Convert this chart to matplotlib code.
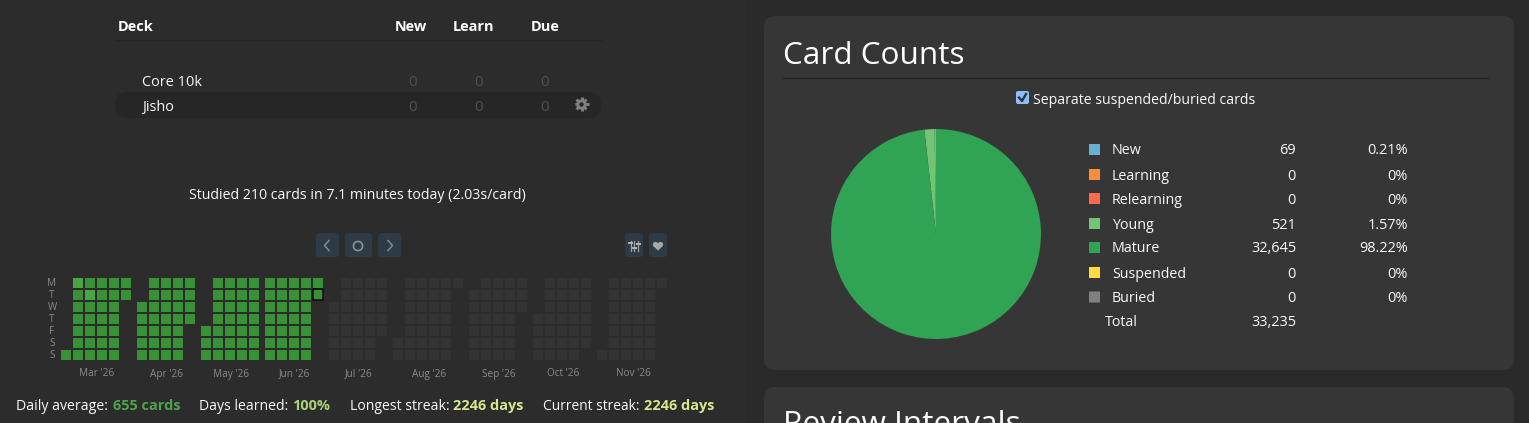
#!/usr/bin/env python3

import math

import matplotlib
matplotlib.use("Agg")
import matplotlib.pyplot as plt
from matplotlib.patches import FancyBboxPatch, Rectangle, Circle, Polygon

W, H = 1529, 423
FONT = ["Open Sans", "DejaVu Sans"]

# deck table
DECK_COLS = ["New", "Learn", "Due"]
DECKS = ["Core 10k", "Jisho"]
DECK_COUNTS = [[0, 0, 0], [0, 0, 0]]

# heatmap, one string per week, Monday on the left
# . = no cell, 0 = future, 1 = studied, 2 = studied a lot, x = today
MONTHS = ["Mar '26", "Apr '26", "May '26", "Jun '26", "Jul '26", "Aug '26", "Sep '26", "Oct '26", "Nov '26"]
WEEKS = [
    ["......1", "2111111", "1211111", "1111111", "1111111", "11....."],
    ["..11111", "1111111", "1111111", "1111111", "1111..."],
    ["....111", "1111111", "1111111", "1111111", "1111111"],
    ["1111111", "1111111", "1111111", "1111111", "1x....."],
    ["..00000", "0000000", "0000000", "0000000", "00000.."],
    [".....00", "0000000", "0000000", "0000000", "0000000", "0......"],
    [".000000", "0000000", "0000000", "0000000", "000...."],
    ["...0000", "0000000", "0000000", "0000000", "000000."],
    ["......0", "0000000", "0000000", "0000000", "0000000", "0......"],
]
WEEKDAYS = ["M", "T", "W", "T", "F", "S", "S"]

# card counts
STATES = ["New", "Learning", "Relearning", "Young", "Mature", "Suspended", "Buried"]
COUNTS = [69, 0, 0, 521, 32645, 0, 0]
PERCENTS = ["0.21%", "0%", "0%", "1.57%", "98.22%", "0%", "0%"]
STATE_COLORS = ["#6baed6", "#fd8d3c", "#fb6a4a", "#74c476", "#31a354", "#ffdc41", "#808080"]
TOTAL = 33235

BG = "#2c2c2c"
PANEL = "#363636"
BTN = "#2d3b47"
CELL = {"0": "#333333", "1": "#389135", "2": "#47a543", "x": "#389135"}
TEXT = "#fafafa"


def rbox(ax, x0, y0, x1, y1, r, color, z=1):
    ax.add_patch(FancyBboxPatch((x0, y0), x1 - x0, y1 - y0, boxstyle="round,pad=0,rounding_size=%g" % r,
                                fc=color, ec="none", lw=0, zorder=z))


def txt(ax, x, base, s, px=14.2, color=TEXT, ha="left", bold=False):
    # base is the text baseline in pixels
    ax.text(x, base, s, fontsize=px * 0.72, color=color, ha=ha, va="baseline",
            fontweight="bold" if bold else "normal", family=FONT, zorder=5)


fig = plt.figure(figsize=(W / 100, H / 100), dpi=100, facecolor=BG)
ax = fig.add_axes([0, 0, 1, 1])
ax.set_xlim(0, W)
ax.set_ylim(H, 0)
ax.axis("off")

# page background and cards
ax.add_patch(Rectangle((747, 0), W - 747, H, fc="#2a2a2a", ec="none", zorder=0))
rbox(ax, 764, 16, 1514, 370, 11, PANEL)
rbox(ax, 764, 387, 1514, 460, 11, PANEL)

# deck table
txt(ax, 118, 31, "Deck", 14.5, "white", bold=True)
for name, x in zip(DECK_COLS, [411, 473, 545]):
    txt(ax, x, 31, name, 14.5, "white", "center", True)
ax.plot([115, 601], [40.5, 40.5], color="#242424", lw=1)
rbox(ax, 115, 92, 601, 118, 13, "#262626")
for name, vals, y in zip(DECKS, DECK_COUNTS, [86, 111]):
    txt(ax, 142, y, name, 14.5)
    for v, x in zip(vals, [413, 479, 545]):
        txt(ax, x, y, str(v), 15, "#505050", "center")

# gear icon
GX, GY = 581.5, 104.5
for i in range(8):
    a = i * math.pi / 4
    ax.plot([GX, GX + 7 * math.cos(a)], [GY, GY + 7 * math.sin(a)], color="#808080", lw=2.1,
            solid_capstyle="butt", zorder=3)
ax.add_patch(Circle((GX, GY), 5.2, fc="#808080", ec="none", zorder=3))
ax.add_patch(Circle((GX, GY), 2.2, fc="#262626", ec="none", zorder=4))

txt(ax, 357, 199, "Studied 210 cards in 7.1 minutes today (2.03s/card)", 14.1, TEXT, "center")

# heatmap buttons
for x0, x1 in [(316, 339), (345, 372), (378, 401), (625, 643), (649, 667)]:
    rbox(ax, x0, 233, x1, 257, 3, BTN)
ax.plot([329, 324.5, 329], [240.5, 245.5, 250.5], color="#858b90", lw=1.1)
ax.plot([388, 392.5, 388], [240.5, 245.5, 250.5], color="#858b90", lw=1.1)
ax.add_patch(Circle((358, 246), 4.6, fc="none", ec="#8d9194", lw=1.2, zorder=3))
for x, my in zip([630.5, 634, 638], [243, 248, 244]):
    ax.plot([x, x], [241, 251], color="#a0a0a0", lw=0.9, zorder=3)
    ax.plot([x - 1.5, x + 1.5], [my, my], color="#b5b5b5", lw=1.4, zorder=3)
# heart icon
ax.add_patch(Circle((655.6, 244.6), 2.7, fc="#a8a8a8", ec="none", zorder=3))
ax.add_patch(Circle((660.4, 244.6), 2.7, fc="#a8a8a8", ec="none", zorder=3))
ax.add_patch(Polygon([(653.1, 245.8), (662.9, 245.8), (658, 250.6)], fc="#a8a8a8", ec="none", zorder=3))

# heatmap cells
x = 61
for label, weeks in zip(MONTHS, WEEKS):
    start = x
    for week in weeks:
        for row, c in enumerate(week):
            if c == ".":
                continue
            y = 278 + row * 12
            ax.add_patch(Rectangle((x, y), 10, 10, fc=CELL[c], ec="none", lw=0, zorder=2, snap=False))
            if c == "x":
                ax.add_patch(Rectangle((x - 0.5, y - 0.5), 10.5, 10.5, fc="none", ec="#0c0c0c", lw=1.1, zorder=3))
        x += 12
    txt(ax, (start + x - 2) / 2 + 1, 376.5, label, 10, "#8a8a8a", "center")
    x += 4
for row, d in enumerate(WEEKDAYS):
    txt(ax, 52, 286.5 + row * 12, d, 10, "#8a8a8a", "center")

# streak footer
txt(ax, 16, 410, "Daily average:", 14.1)
txt(ax, 113, 410, "655 cards", 14.5, "#4ea44a", bold=True)
txt(ax, 199, 410, "Days learned:", 14)
txt(ax, 292, 410, "100%", 14.5, "#a9d477", bold=True)
txt(ax, 350, 410, "Longest streak:", 14)
txt(ax, 453, 410, "2246 days", 14.5, "#d3e98a", bold=True)
txt(ax, 543, 410, "Current streak:", 13.7)
txt(ax, 644, 410, "2246 days", 14.5, "#d3e98a", bold=True)

# card counts header
txt(ax, 783, 63.5, "Card Counts", 31.5, "white")
ax.plot([783, 1488], [78.5, 78.5], color="#232323", lw=1)
rbox(ax, 1016, 91, 1029, 104, 2, "#8fbdf5", 3)
ax.plot([1019, 1022, 1026], [97.5, 101, 94], color="#2f3438", lw=1.7, zorder=4)
txt(ax, 1033, 104, "Separate suspended/buried cards", 14)

# legend table
swatch_y = [149.5, 174.5, 198.5, 223.5, 247.5, 272.5, 297]
base_y = [154, 180, 203.5, 229, 252, 278, 302]
for name, n, pct, col, sy, y in zip(STATES, COUNTS, PERCENTS, STATE_COLORS, swatch_y, base_y):
    ax.add_patch(Rectangle((1089, sy - 5.5), 11, 11, fc=col, ec="none", zorder=3, snap=False))
    txt(ax, 1112, y, name, 14.2)
    txt(ax, 1296, y, format(n, ","), 14.5, ha="right")
    txt(ax, 1408, y, pct, 14.5, ha="right")
txt(ax, 1105, 326, "Total", 14.2)
txt(ax, 1296, 326, format(TOTAL, ","), 14.5, ha="right")

# next card, cut off by the window
txt(ax, 783, 433, "Review Intervals", 31.5, "white")

# pie
pie_ax = fig.add_axes([(936 - 105.5) / W, 1 - (234 + 105.5) / H, 211 / W, 211 / H])
pie_ax.pie(COUNTS, colors=STATE_COLORS, startangle=90, counterclock=True, radius=1.0,
           wedgeprops={"lw": 0, "ec": "none"})
pie_ax.set_xlim(-1.005, 1.005)
pie_ax.set_ylim(-1.005, 1.005)

fig.savefig("out.png", dpi=100, facecolor=BG)
